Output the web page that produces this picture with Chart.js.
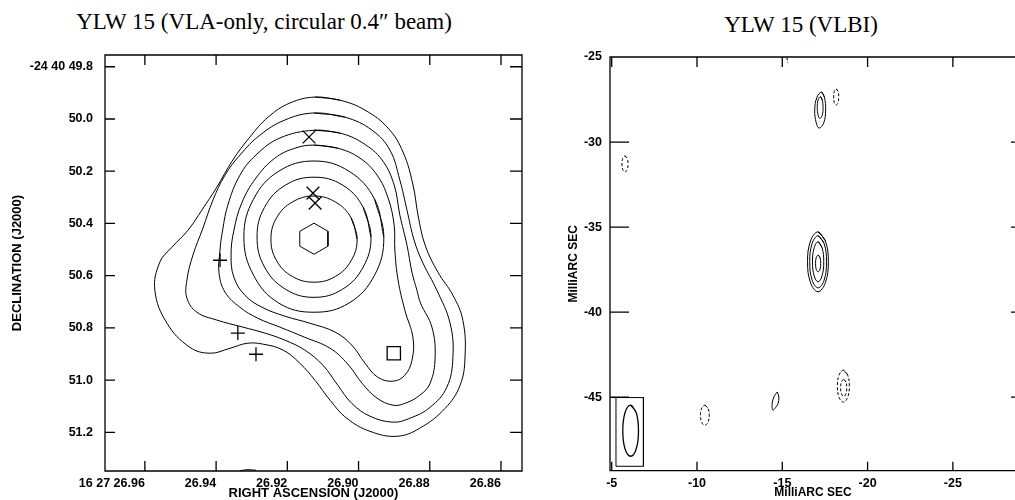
<!DOCTYPE html>
<html>
<head>
<meta charset="utf-8">
<title>YLW 15</title>
<script src="https://cdn.jsdelivr.net/npm/chart.js@4.4.1/dist/chart.umd.min.js"></script>
<style>
  html, body { margin: 0; padding: 0; background: #fff; overflow: hidden; }
  #page { position: relative; width: 1015px; height: 500px; overflow: hidden; }
  canvas { position: absolute; top: 0; }
  #vlaChart { left: 0; }
  #vlbiChart { left: 540px; }
  .title { position: absolute; font-family: 'Liberation Serif', 'Times New Roman', serif; font-size: 23px; line-height: 28px; white-space: nowrap; transform: translateX(-50%); color: #000; }
</style>
</head>
<body>
<div id="page">
  <div class="title" style="left:264px;top:8px">YLW 15 (VLA-only, circular 0.4″ beam)</div>
  <div class="title" style="left:801px;top:11px">YLW 15 (VLBI)</div>
  <canvas id="vlaChart" width="540" height="500"></canvas>
  <canvas id="vlbiChart" width="476" height="500"></canvas>
</div>
<script>
// ---- VLA panel: axes (RA seconds, Dec arcsec) ----
const raTicks = [26.96, 26.94, 26.92, 26.90, 26.88, 26.86];
const raLabels = ['16 27 26.96', '26.94', '26.92', '26.90', '26.88', '26.86'];
const decTicks = [49.8, 50.0, 50.2, 50.4, 50.6, 50.8, 51.0, 51.2];
const decLabels = ['-24 40 49.8', '50.0', '50.2', '50.4', '50.6', '50.8', '51.0', '51.2'];

// contour levels, outermost (c1) to innermost (c7), plus the peak
const c1 = [[26.9122,49.916],[26.9052,49.928],[26.8982,49.966],[26.8917,50.035],[26.8875,50.127],[26.8847,50.253],[26.8833,50.368],[26.8813,50.483],[26.8777,50.587],[26.8735,50.675],[26.8707,50.771],[26.8701,50.912],[26.8715,51.020],[26.8757,51.108],[26.8828,51.184],[26.8892,51.215],[26.8968,51.196],[26.9033,51.146],[26.9080,51.077],[26.9122,51.001],[26.9165,50.935],[26.9212,50.885],[26.9269,50.862],[26.9313,50.859],[26.9361,50.878],[26.9417,50.897],[26.9474,50.874],[26.9538,50.782],[26.9572,50.656],[26.9558,50.548],[26.9524,50.491],[26.9479,50.426],[26.9440,50.349],[26.9398,50.261],[26.9353,50.157],[26.9305,50.069],[26.9254,49.993],[26.9193,49.939]];
const c2 = [[26.9125,49.977],[26.9038,49.993],[26.8962,50.043],[26.8912,50.119],[26.8884,50.234],[26.8864,50.349],[26.8844,50.464],[26.8819,50.552],[26.8780,50.656],[26.8743,50.782],[26.8735,50.912],[26.8752,51.027],[26.8799,51.104],[26.8856,51.146],[26.8903,51.161],[26.8968,51.138],[26.9019,51.089],[26.9058,51.020],[26.9100,50.943],[26.9151,50.885],[26.9207,50.847],[26.9263,50.820],[26.9325,50.797],[26.9398,50.770],[26.9454,50.740],[26.9482,50.686],[26.9482,50.617],[26.9465,50.521],[26.9437,50.418],[26.9409,50.311],[26.9375,50.215],[26.9333,50.138],[26.9277,50.062],[26.9207,50.004]];
const c3 = [[26.9125,50.043],[26.9052,50.054],[26.8988,50.092],[26.8934,50.157],[26.8900,50.253],[26.8884,50.368],[26.8864,50.483],[26.8850,50.587],[26.8836,50.656],[26.8826,50.705],[26.8794,50.797],[26.8785,50.912],[26.8799,51.012],[26.8828,51.058],[26.8870,51.089],[26.8903,51.096],[26.8948,51.069],[26.8990,51.012],[26.9030,50.939],[26.9080,50.878],[26.9151,50.836],[26.9221,50.797],[26.9283,50.763],[26.9333,50.721],[26.9375,50.663],[26.9392,50.587],[26.9389,50.502],[26.9384,50.445],[26.9367,50.330],[26.9333,50.215],[26.9288,50.138],[26.9221,50.073]];
const c4 = [[26.9125,50.100],[26.9058,50.112],[26.8996,50.150],[26.8948,50.215],[26.8917,50.303],[26.8900,50.407],[26.8898,50.502],[26.8889,50.617],[26.8870,50.732],[26.8847,50.839],[26.8850,50.924],[26.8870,50.981],[26.8903,51.004],[26.8946,50.989],[26.8982,50.935],[26.9019,50.866],[26.9066,50.816],[26.9137,50.782],[26.9207,50.755],[26.9271,50.721],[26.9319,50.675],[26.9350,50.606],[26.9358,50.521],[26.9350,50.426],[26.9328,50.322],[26.9288,50.226],[26.9235,50.150],[26.9179,50.112]];
const c5 = [[26.8929,50.452],[26.8955,50.307],[26.9027,50.200],[26.9125,50.161],[26.9224,50.200],[26.9295,50.307],[26.9322,50.452],[26.9295,50.598],[26.9224,50.705],[26.9125,50.740],[26.9027,50.705],[26.8955,50.598]];
const c6 = [[26.8965,50.452],[26.8987,50.338],[26.9045,50.253],[26.9125,50.223],[26.9205,50.253],[26.9264,50.338],[26.9285,50.452],[26.9264,50.567],[26.9205,50.652],[26.9125,50.683],[26.9045,50.652],[26.8987,50.567]];
const c7 = [[26.9004,50.460],[26.9021,50.378],[26.9065,50.318],[26.9125,50.295],[26.9186,50.318],[26.9230,50.378],[26.9246,50.460],[26.9230,50.543],[26.9186,50.603],[26.9125,50.625],[26.9065,50.603],[26.9021,50.543]];
const peak = [[26.9125,50.399],[26.9086,50.430],[26.9086,50.487],[26.9125,50.518],[26.9165,50.487],[26.9165,50.430],[26.9125,50.399]];
const edgeBit = [[26.9333,51.347],[26.9313,51.343],[26.9288,51.345]];

// marked positions
const xMarks = [[26.9139,50.069],[26.9128,50.284],[26.9122,50.322]];
const plusMarks = [[26.9389,50.541],[26.9339,50.820],[26.9288,50.901]];
const boxMarks = [[26.8901,50.897]];

// ---- VLBI panel: axes in milliarcsec ----
const masXTicks = [-5, -10, -15, -20, -25];
const masYTicks = [-25, -30, -35, -40, -45];

const mainSrc = [
  [[-17.09,-35.28],[-17.52,-35.80],[-17.70,-37.04],[-17.52,-38.28],[-17.09,-38.80],[-16.66,-38.28],[-16.48,-37.04],[-16.66,-35.80]],
  [[-17.10,-35.51],[-17.45,-35.96],[-17.59,-37.04],[-17.45,-38.12],[-17.10,-38.57],[-16.75,-38.12],[-16.61,-37.04],[-16.75,-35.96]],
  [[-17.10,-35.86],[-17.33,-36.21],[-17.43,-37.04],[-17.33,-37.87],[-17.10,-38.22],[-16.87,-37.87],[-16.77,-37.04],[-16.87,-36.21]],
  [[-17.10,-36.65],[-17.21,-36.79],[-17.25,-37.14],[-17.21,-37.49],[-17.10,-37.63],[-16.99,-37.49],[-16.95,-37.14],[-16.99,-36.79]]
];
const upperSrc = [
  [[-17.30,-27.06],[-17.47,-27.37],[-17.54,-28.12],[-17.43,-28.87],[-17.16,-29.18],[-16.99,-28.87],[-16.90,-28.12],[-17.03,-27.37]],
  [[-17.24,-27.33],[-17.34,-27.52],[-17.39,-27.97],[-17.34,-28.42],[-17.20,-28.61],[-17.10,-28.42],[-17.05,-27.97],[-17.10,-27.52]]
];
const lensSrc = [[-14.71,-44.69],[-14.80,-45.00],[-14.74,-45.40],[-14.45,-45.76],[-14.40,-45.40],[-14.52,-44.95],[-14.71,-44.69]];
const negUpper = [[-18.16,-26.88],[-18.27,-27.02],[-18.31,-27.35],[-18.27,-27.68],[-18.16,-27.82],[-18.05,-27.68],[-18.01,-27.35],[-18.05,-27.02]];
const negLeft = [[-5.78,-30.82],[-5.91,-30.96],[-5.96,-31.29],[-5.91,-31.62],[-5.78,-31.76],[-5.65,-31.62],[-5.60,-31.29],[-5.65,-30.96]];
const negLow = [[-10.46,-45.47],[-10.64,-45.64],[-10.72,-46.06],[-10.64,-46.48],[-10.46,-46.65],[-10.28,-46.48],[-10.20,-46.06],[-10.28,-45.64]];
const negPair = [
  [[-18.58,-43.41],[-18.83,-43.69],[-18.93,-44.35],[-18.83,-45.01],[-18.58,-45.29],[-18.33,-45.01],[-18.23,-44.35],[-18.33,-43.69]],
  [[-18.60,-43.95],[-18.73,-44.10],[-18.78,-44.45],[-18.73,-44.80],[-18.60,-44.95],[-18.47,-44.80],[-18.42,-44.45],[-18.47,-44.10]]
];
const topBit = [[-15.27,-25.02],[-15.32,-25.35]];
const beam = [[-6.11,-45.47],[-6.44,-45.91],[-6.57,-46.97],[-6.44,-48.03],[-6.11,-48.47],[-5.78,-48.03],[-5.65,-46.97],[-5.78,-45.91]];
const beamBox = [[-4.9,-45.02],[-6.86,-45.02],[-6.86,-49.06],[-5.25,-49.06],[-5.25,-45.02]];

const tickFont = { family: 'Liberation Sans', size: 12.5, weight: 'bold' };

// closed smooth contour through the read points
function loop(points, extra) {
  return Object.assign({
    data: [...points, points[0], points[1]],
    showLine: true, borderColor: '#000', borderWidth: 1,
    pointRadius: 0, tension: 0.4, fill: false
  }, extra || {});
}
function path(points, extra) {
  return Object.assign({
    data: points, showLine: true, borderColor: '#000', borderWidth: 1,
    pointRadius: 0, tension: 0, fill: false
  }, extra || {});
}
function marks(points, style, r) {
  return {
    data: points, showLine: false, pointStyle: style, pointRadius: r,
    pointBorderColor: '#000', pointBackgroundColor: 'rgba(0,0,0,0)', pointBorderWidth: 1.3
  };
}

// box round the plot with inward ticks on all four sides
const frameTicks = {
  id: 'frameTicks',
  afterDraw(chart, args, opts) {
    const { ctx, chartArea: a } = chart;
    const xs = chart.scales.x, ys = chart.scales.y;
    ctx.save();
    ctx.strokeStyle = '#000';
    ctx.lineWidth = 1.3;
    ctx.beginPath();
    ctx.rect(a.left, a.top, a.right - a.left, a.bottom - a.top);
    xs.ticks.forEach(t => {
      const px = xs.getPixelForValue(t.value);
      ctx.moveTo(px, a.top); ctx.lineTo(px, a.top + opts.top);
      ctx.moveTo(px, a.bottom); ctx.lineTo(px, a.bottom - opts.bottom);
    });
    ys.ticks.forEach(t => {
      const py = ys.getPixelForValue(t.value);
      ctx.moveTo(a.left, py); ctx.lineTo(a.left + opts.left, py);
      ctx.moveTo(a.right, py); ctx.lineTo(a.right - opts.right, py);
    });
    ctx.stroke();
    ctx.restore();
  }
};

function axis(opts) {
  return Object.assign({
    type: 'linear',
    grid: { display: false, drawTicks: false },
    border: { display: false }
  }, opts);
}

// VLA-only map
new Chart(document.getElementById('vlaChart'), {
  type: 'scatter',
  data: {
    datasets: [
      loop(c1), loop(c2), loop(c3), loop(c4), loop(c5), loop(c6), loop(c7),
      path(peak), path(edgeBit, { tension: 0.4 }),
      marks(xMarks, 'crossRot', 9),
      marks(plusMarks, 'cross', 7),
      marks(boxMarks, 'rect', 9.4)
    ]
  },
  options: {
    responsive: false, animation: false, events: [],
    layout: { padding: { top: 55, right: 18, left: 0, bottom: 0 } },
    plugins: {
      legend: { display: false }, tooltip: { enabled: false },
      frameTicks: { top: 10, bottom: 10, left: 10, right: 12 }
    },
    scales: {
      x: axis({
        position: 'bottom', reverse: true, min: 26.8541, max: 26.9712,
        afterBuildTicks: s => { s.ticks = raTicks.map(v => ({ value: v })); },
        afterFit: s => { s.height = 29; },
        ticks: { align: 'end', padding: 5, color: '#000', font: tickFont, autoSkip: false, maxRotation: 0,
                 callback: v => raLabels[raTicks.indexOf(v)] },
        title: { display: true, text: 'RIGHT ASCENSION (J2000)', color: '#000',
                 font: { family: 'Liberation Sans', size: 13, weight: 'bold', lineHeight: 1 }, padding: { top: 0, bottom: 0 } }
      }),
      y: axis({
        position: 'left', reverse: true, min: 49.755, max: 51.348,
        afterBuildTicks: s => { s.ticks = decTicks.map(v => ({ value: v })); },
        afterFit: s => { s.width = 105; },
        ticks: { padding: 12, color: '#000', font: tickFont, autoSkip: false,
                 callback: v => decLabels[decTicks.indexOf(v)] },
        title: { display: true, text: 'DECLINATION (J2000)', color: '#000',
                 font: { family: 'Liberation Sans', size: 13, weight: 'bold', lineHeight: 1.2 }, padding: { top: 10, bottom: 0 } }
      })
    }
  },
  plugins: [frameTicks]
});

// VLBI map
const dashed = { borderDash: [3, 2] };
new Chart(document.getElementById('vlbiChart'), {
  type: 'scatter',
  data: {
    datasets: [
      ...mainSrc.map(e => loop(e)),
      ...upperSrc.map(e => loop(e)),
      path(lensSrc, { tension: 0.3 }),
      loop(negUpper, dashed), loop(negLeft, dashed), loop(negLow, dashed),
      ...negPair.map(e => loop(e, dashed)),
      path(topBit, dashed),
      loop(beam, { borderWidth: 1.3 }),
      path(beamBox)
    ]
  },
  options: {
    responsive: false, animation: false, events: [],
    layout: { padding: { top: 57, right: 0, left: 0, bottom: 0 } },
    plugins: {
      legend: { display: false }, tooltip: { enabled: false },
      frameTicks: { top: 10, bottom: 9, left: 19, right: 5 }
    },
    scales: {
      x: axis({
        position: 'bottom', reverse: true, min: -28.7, max: -4.9,
        afterBuildTicks: s => { s.ticks = masXTicks.map(v => ({ value: v })); },
        afterFit: s => { s.height = 29.3; },
        ticks: { padding: 5, color: '#000', font: tickFont, autoSkip: false, maxRotation: 0 },
        title: { display: true, text: 'MilliARC SEC', color: '#000',
                 font: { family: 'Liberation Sans', size: 12, weight: 'bold', lineHeight: 1 }, padding: { top: 0, bottom: 1 } }
      }),
      y: axis({
        position: 'left', min: -49.32, max: -25,
        afterBuildTicks: s => { s.ticks = masYTicks.map(v => ({ value: v })); },
        afterFit: s => { s.width = 70; },
        ticks: { padding: 8, color: '#000', font: tickFont, autoSkip: false },
        title: { display: true, text: 'MilliARC SEC', color: '#000',
                 font: { family: 'Liberation Sans', size: 12, weight: 'bold', lineHeight: 1.2 }, padding: { top: 26, bottom: 0 } }
      })
    }
  },
  plugins: [frameTicks]
});
</script>
</body>
</html>
